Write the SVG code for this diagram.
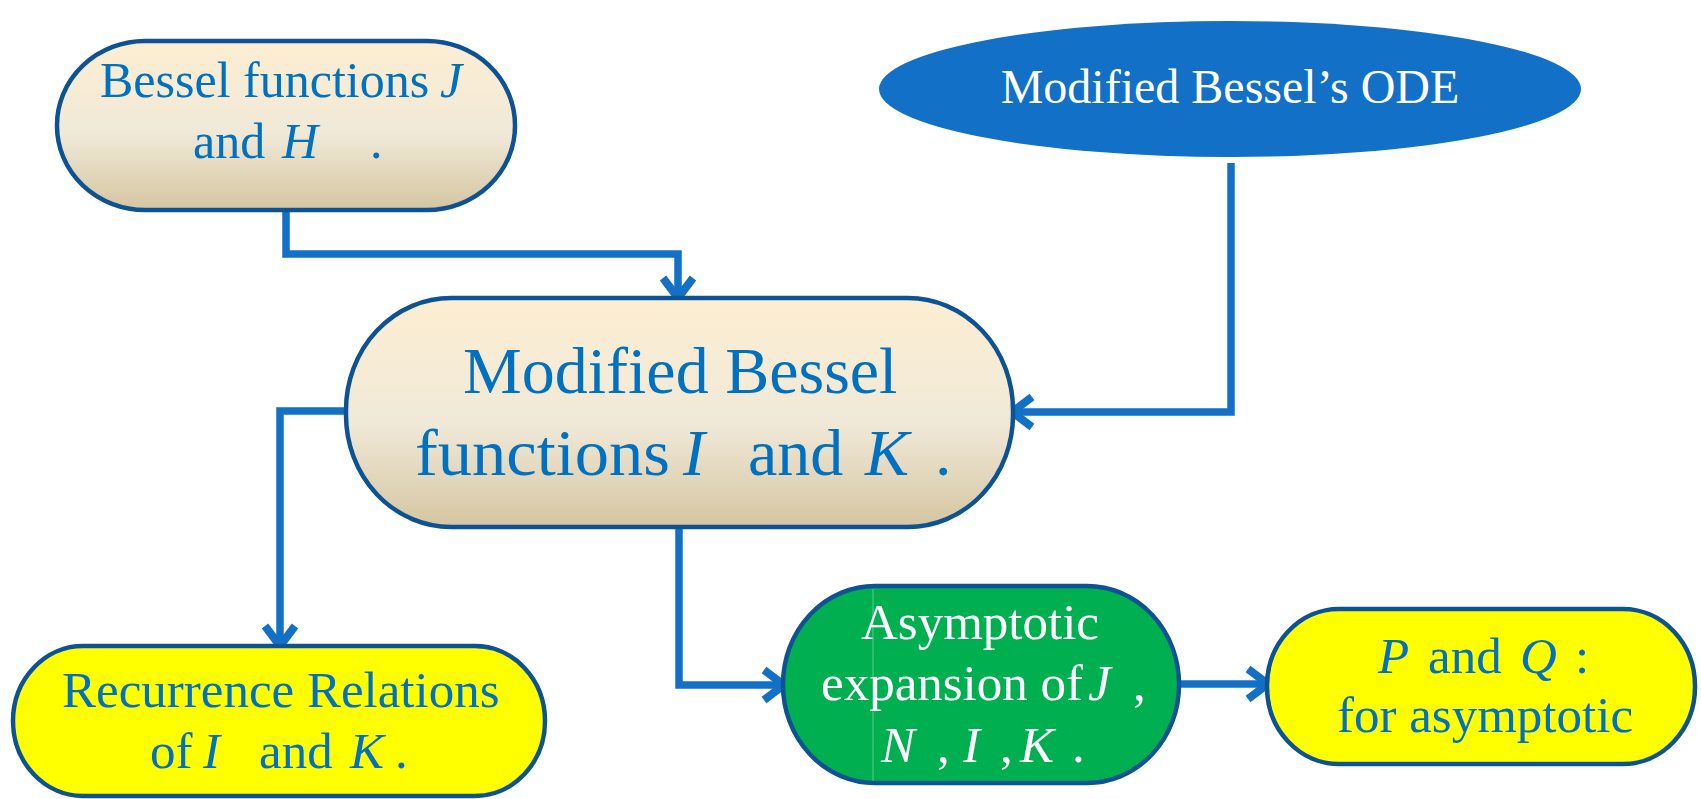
<svg xmlns="http://www.w3.org/2000/svg" width="1701" height="799" viewBox="0 0 1701 799">
<defs>
<linearGradient id="beige" x1="0" y1="0" x2="0" y2="1">
<stop offset="0" stop-color="#fdeed2"/>
<stop offset="0.55" stop-color="#f0e9d8"/>
<stop offset="1" stop-color="#d5c5a1"/>
</linearGradient>
<marker id="arr" markerUnits="userSpaceOnUse" viewBox="-34 -20 38 40" markerWidth="38" markerHeight="40" refX="-5" refY="0" orient="auto">
<path d="M-27,-15 L-7,0 L-27,15" fill="none" stroke="#1270c6" stroke-width="8" stroke-linejoin="miter"/>
</marker>
</defs>
<style>
.node{stroke:#0d5393;stroke-width:4.5}
.t{font-family:"Liberation Serif","Times New Roman",serif;font-size:50px;fill:#0070c0}
.w{fill:#ffffff}
.i{font-style:italic}
.conn{fill:none;stroke:#1270c6;stroke-width:7.5;stroke-linejoin:miter}
</style>

<g id="connectors">
<path class="conn" d="M286,210 V254 H678 V300" marker-end="url(#arr)"/>
<path class="conn" d="M1231,163 V412 H1010" marker-end="url(#arr)"/>
<path class="conn" d="M346,411 H280 V648" marker-end="url(#arr)"/>
<path class="conn" d="M679,528 V685 H786" marker-end="url(#arr)"/>
<path class="conn" d="M1179,684 H1270" marker-end="url(#arr)"/>
</g>

<g id="node-bessel-jh">
<rect class="node" x="57" y="41" width="458" height="169" rx="88" ry="84" fill="url(#beige)"/>
<text class="t" y="97"><tspan x="100">Bessel functions</tspan><tspan class="i" x="440">J</tspan></text>
<text class="t" y="158"><tspan x="193">and</tspan><tspan class="i" x="282">H</tspan><tspan x="370">.</tspan></text>
</g>

<g id="node-modified-ode">
<ellipse cx="1230" cy="89" rx="351" ry="68" fill="#1270c6"/>
<text class="t w" x="1230" y="103" text-anchor="middle" style="font-size:48px">Modified Bessel’s ODE</text>
</g>

<g id="node-modified-ik">
<rect class="node" x="346" y="298" width="667" height="229" rx="105" ry="112" fill="url(#beige)"/>
<text class="t" y="393" style="font-size:66px"><tspan x="463">Modified Bessel</tspan></text>
<text class="t" y="475" style="font-size:66px"><tspan x="415" textLength="255" lengthAdjust="spacingAndGlyphs">functions</tspan><tspan class="i" x="683">I</tspan><tspan x="748">and</tspan><tspan class="i" x="865">K</tspan><tspan x="935">.</tspan></text>
</g>

<g id="node-recurrence">
<rect class="node" x="13" y="646" width="532" height="150" rx="70" ry="75" fill="#ffff00"/>
<text class="t" y="707" style="font-size:51px"><tspan x="62">Recurrence Relations</tspan></text>
<text class="t" y="768" style="font-size:51px"><tspan x="150">of</tspan><tspan class="i" x="203">I</tspan><tspan x="259">and</tspan><tspan class="i" x="350">K</tspan><tspan x="395">.</tspan></text>
</g>

<g id="node-asymptotic">
<rect class="node" x="783" y="586" width="396" height="197" rx="92" ry="98" fill="#00b050"/>
<line x1="873" y1="589" x2="873" y2="781" stroke="#ffffff" stroke-opacity="0.35" stroke-width="1"/>
<text class="t w" y="639" style="font-size:51px"><tspan x="861">Asymptotic</tspan></text>
<text class="t w" y="700" style="font-size:51px"><tspan x="821">expansion of</tspan><tspan class="i" x="1088">J</tspan><tspan x="1133">,</tspan></text>
<text class="t w" y="762" style="font-size:51px"><tspan class="i" x="881">N</tspan><tspan x="937">,</tspan><tspan class="i" x="963">I</tspan><tspan x="1000">,</tspan><tspan class="i" x="1020">K</tspan><tspan x="1072">.</tspan></text>
</g>

<g id="node-pq">
<rect class="node" x="1267" y="609" width="428" height="155" rx="72" ry="77" fill="#ffff00"/>
<text class="t" y="673" style="font-size:51px"><tspan class="i" x="1378">P</tspan><tspan x="1428">and</tspan><tspan class="i" x="1520">Q</tspan><tspan x="1575">:</tspan></text>
<text class="t" y="732" style="font-size:51px"><tspan x="1337">for asymptotic</tspan></text>
</g>
</svg>
